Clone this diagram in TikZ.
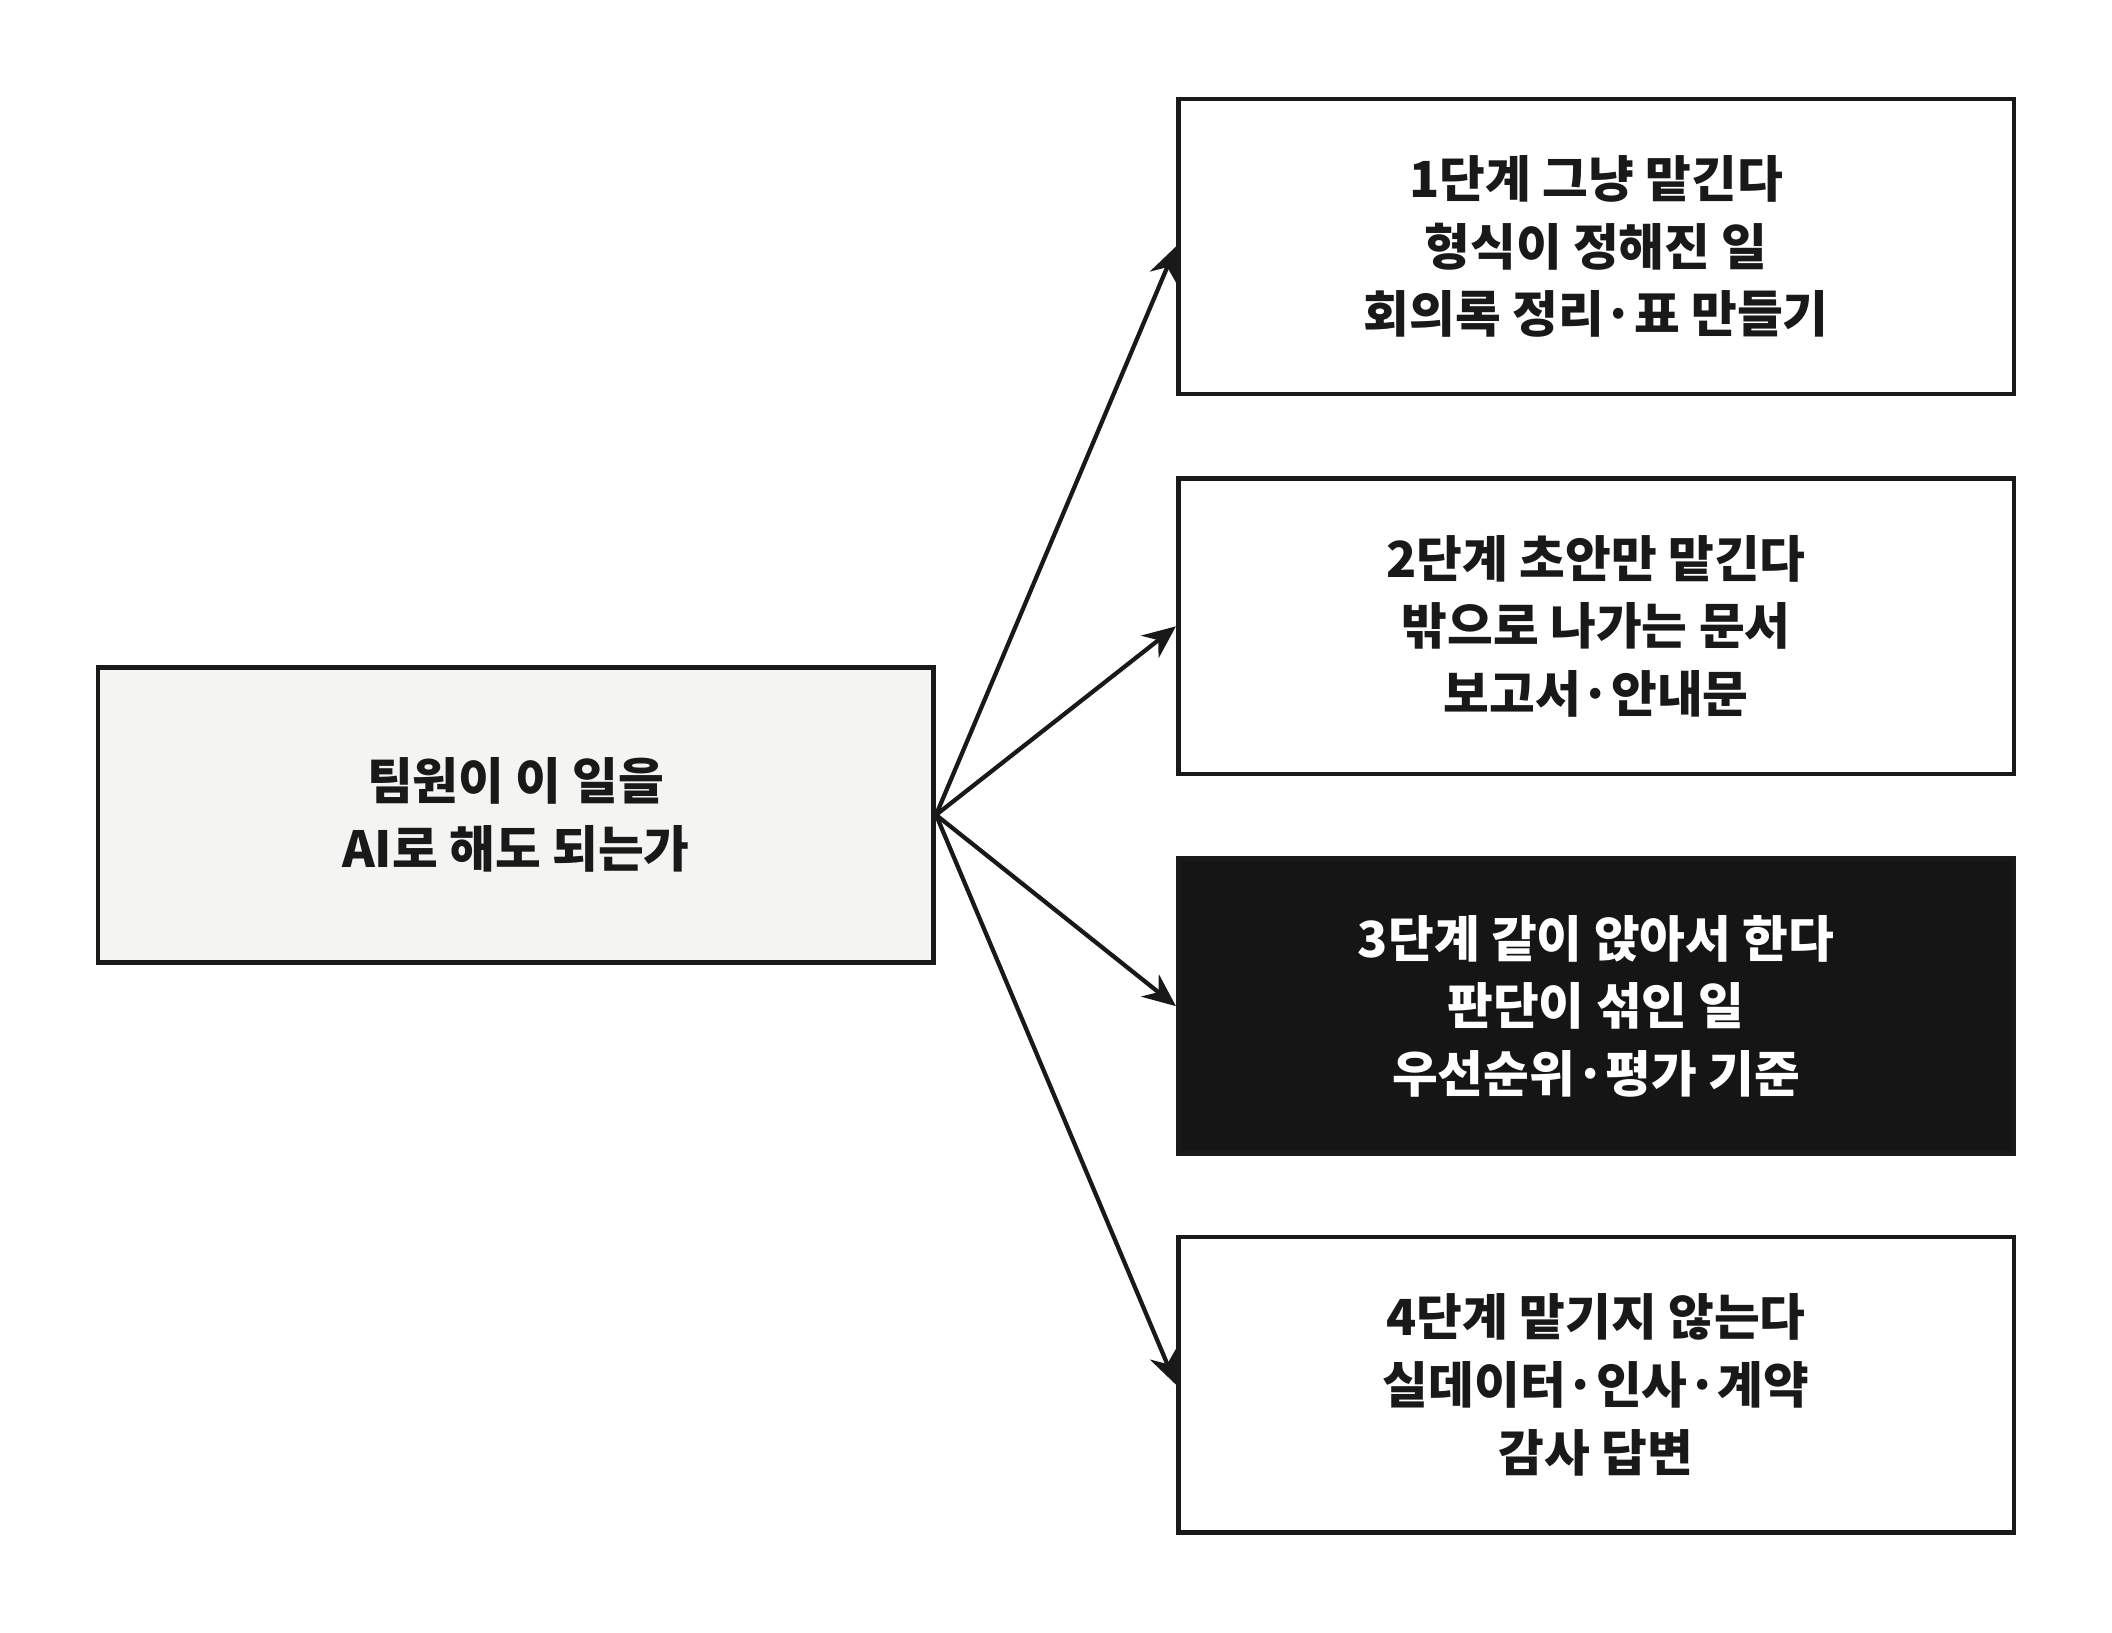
\documentclass[tikz,border=0pt]{standalone}
\usepackage{fontspec}
\setmainfont{Noto Sans CJK KR}
\usetikzlibrary{arrows.meta}
\begin{document}
\begin{tikzpicture}[x=0.01cm,y=-0.01cm]
\tikzset{kasten/.style={draw=black!90,line width=1pt,minimum width=6.2cm,minimum height=2.19cm,align=center,font=\fontsize{10.5}{14.3}\selectfont\bfseries,text=black!90},
pfeil/.style={-{Stealth[length=7pt,width=6pt]},line width=0.9pt,black!90}}
\useasboundingbox (0,0) rectangle (1568,1212);
\node[kasten,fill={rgb,255:red,244;green,244;blue,242}] (frage) at (383,605) {팀원이 이 일을\\AI로 해도 되는가};
\node[kasten] (s1) at (1185,183) {1단계 그냥 맡긴다\\형식이 정해진 일\\회의록 정리·표 만들기};
\node[kasten] (s2) at (1185,465) {2단계 초안만 맡긴다\\밖으로 나가는 문서\\보고서·안내문};
\node[kasten,fill={rgb,255:red,21;green,21;blue,21},text=white] (s3) at (1185,747) {3단계 같이 앉아서 한다\\판단이 섞인 일\\우선순위·평가 기준};
\node[kasten] (s4) at (1185,1028) {4단계 맡기지 않는다\\실데이터·인사·계약\\감사 답변};
\foreach \n in {s1,s2,s3,s4}
  \draw[pfeil] (frage.east) -- (\n.west);
\end{tikzpicture}
\end{document}
